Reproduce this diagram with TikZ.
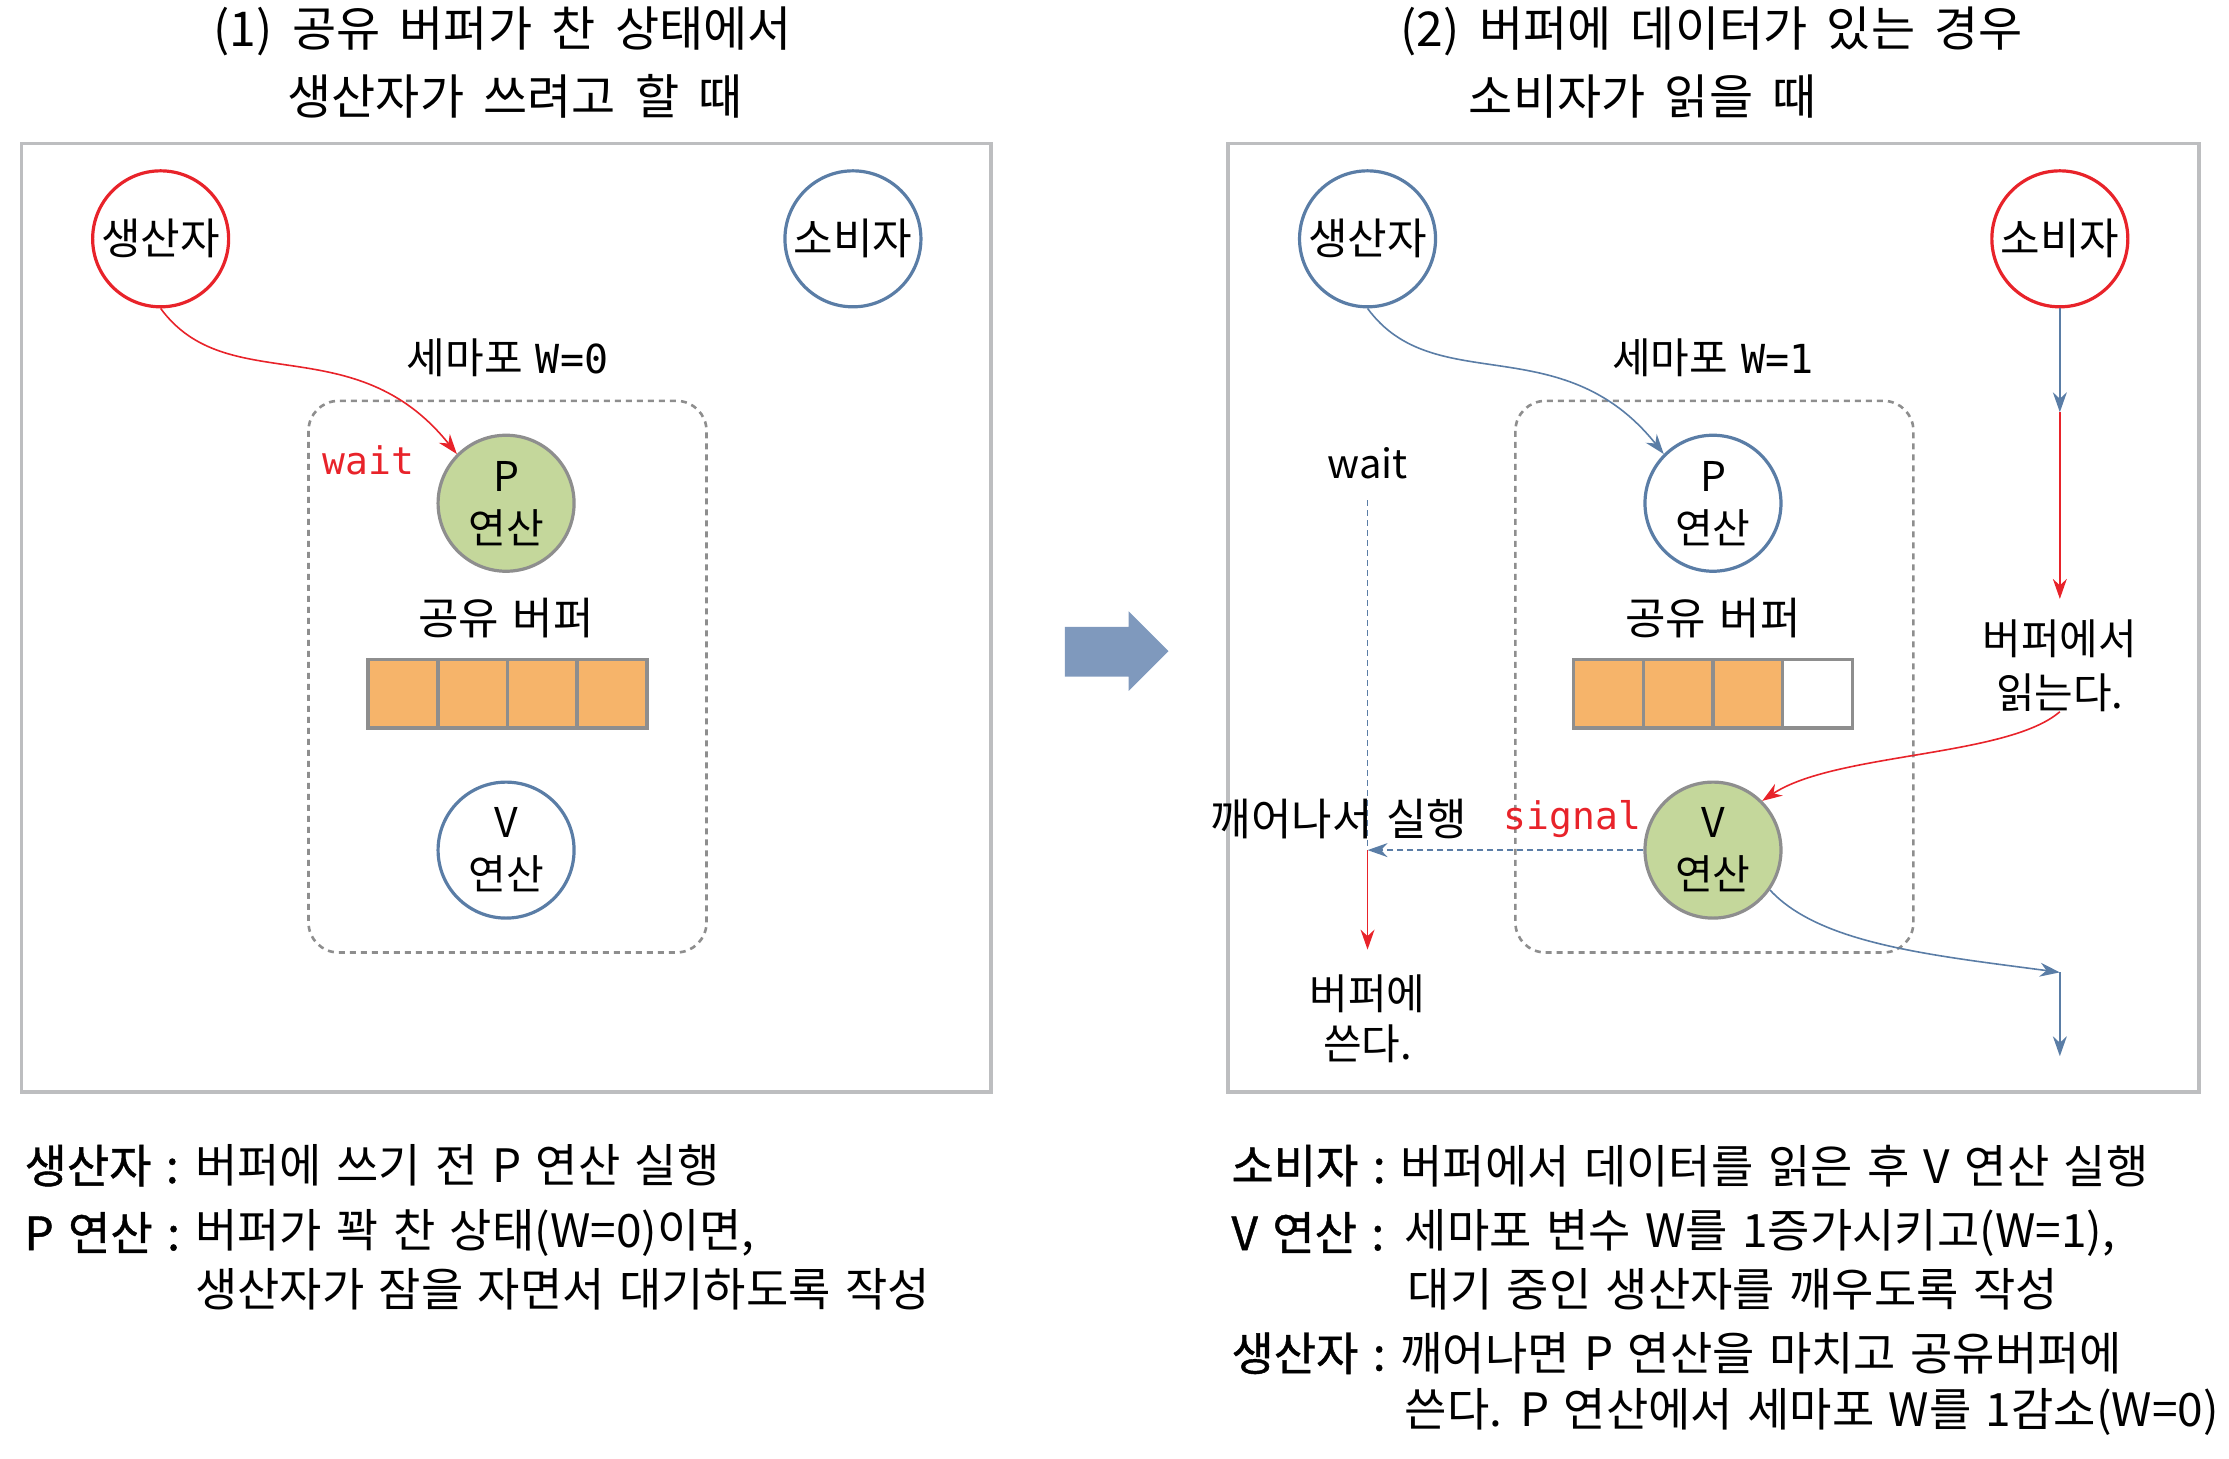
\documentclass[tikz,border=0pt]{standalone}
\usepackage{fontspec}
\setmainfont[WordSpace=1.4]{Noto Sans CJK KR}
\newfontfamily\headfont[WordSpace=1.8]{Noto Sans CJK KR}
\newfontfamily\lblfont[FakeBold=0.9,WordSpace=1.4]{Noto Sans CJK KR}
\newfontfamily\monofont{DejaVu Sans Mono}
\usetikzlibrary{positioning,arrows.meta}
\definecolor{sigred}{HTML}{E8232A}
\definecolor{semblue}{HTML}{5A7DA6}
\definecolor{opgreen}{HTML}{C4D79B}
\definecolor{ringgray}{HTML}{8E8E8E}
\definecolor{bufgold}{HTML}{F6B46A}
\definecolor{framegray}{HTML}{BDBEC0}
\definecolor{bigarrow}{HTML}{7F99BD}

\begin{document}
\begin{tikzpicture}[x=0.7108pt,y=-0.7108pt,
  agent/.style={circle,draw,line width=1.6pt,minimum size=68pt,inner sep=0pt,font=\fontsize{21.5}{24}\selectfont},
  op/.style={circle,draw,line width=1.6pt,minimum size=68pt,inner sep=0pt,align=center,font=\fontsize{20.5}{26}\selectfont},
  txt/.style={inner sep=0pt,align=center,font=\fontsize{22}{26}\selectfont},
  code/.style={inner sep=0pt,text=sigred,font=\monofont\fontsize{19}{22}\selectfont},
  desc/.style={inner sep=0pt,anchor=west,font=\fontsize{23}{26}\selectfont},
  lbl/.style={desc,font=\lblfont\fontsize{23}{26}\selectfont},
  head/.style={inner sep=0pt,anchor=west,font=\headfont\fontsize{24}{28}\selectfont},
  panel/.style={draw=framegray,line width=1.8pt},
  sema/.style={draw=ringgray,line width=1.3pt,dash pattern=on 3pt off 2.5pt,rounded corners=15pt},
  cell/.style={draw=ringgray,line width=1.8pt,fill=bufgold},
  arr/.style={-{Stealth[length=10pt,width=7pt]},line width=0.8pt}]
\useasboundingbox (0,0) rectangle (1568,1026);

% titles
\node[head] (titleA1) at (150,22) {(1) 공유 버퍼가 찬 상태에서};
\node[head] (titleA2) at (202,68) {생산자가 쓰려고 할 때};
\node[head] (titleB1) at (985,22) {(2) 버퍼에 데이터가 있는 경우};
\node[head] (titleB2) at (1033,68) {소비자가 읽을 때};

\draw[panel] (15,101) rectangle (697,768);
\draw[panel] (864,101) rectangle (1547,768);

% (1) buffer full, producer writes
\node[agent,draw=sigred] (prodA) at (113,168) {생산자};
\node[agent,draw=semblue] (consA) at (600,168) {소비자};
\node[txt,font=\fontsize{21}{26}\selectfont] (semA) at (357,252) {세마포 {\monofont\fontsize{20}{26}\selectfont W=0}};
\draw[sema] (217,282) rectangle (497,670);
\node[op,draw=ringgray,fill=opgreen] (pA) at (356,354) {P\\연산};
\node[code] (waitA) at (259,324) {wait};
\node[txt] (bufA) at (356,435) {공유 버퍼};
\foreach \i in {0,...,3}
  \draw[cell] (259+49*\i,464) rectangle ++(49,48);
\node[op,draw=semblue] (vA) at (356,598) {V\\연산};
\draw[arr,sigred] (prodA.south) .. controls +(47,64) and +(-72,-90) .. (pA.north west);

\fill[bigarrow] (749,441) -- (794,441) -- (794,430) -- (822,458)
  -- (794,486) -- (794,476) -- (749,476) -- cycle;

% (2) buffer has data, consumer reads
\node[agent,draw=semblue] (prodB) at (962,168) {생산자};
\node[agent,draw=sigred] (consB) at (1449,168) {소비자};
\node[txt,font=\fontsize{21}{26}\selectfont] (semB) at (1205,252) {세마포 {\monofont\fontsize{20}{26}\selectfont W=1}};
\draw[sema] (1066,282) rectangle (1346,670);
\node[op,draw=semblue] (pB) at (1205,354) {P\\연산};
\node[txt] (bufB) at (1205,435) {공유 버퍼};
\foreach \i in {0,1,2}
  \draw[cell] (1107+49*\i,464) rectangle ++(49,48);
\draw[cell,fill=white] (1254,464) rectangle ++(49,48);
\node[op,draw=ringgray,fill=opgreen] (vB) at (1205,598) {V\\연산};
\draw[arr,semblue] (prodB.south) .. controls +(47,64) and +(-72,-90) .. (pB.north west);

\node[txt,font=\fontsize{20}{24}\selectfont] (waitB) at (962,326) {wait};
\coordinate (sleepB) at (962,352);
\coordinate (wakeB) at (962,598);
\coordinate (doneB) at (962,668);
\draw[semblue,line width=0.8pt,dash pattern=on 3pt off 2pt] (sleepB) -- (wakeB);
\draw[arr,semblue,dash pattern=on 3pt off 2pt] (vB.west) -- (wakeB);
\draw[arr,sigred] (wakeB) -- (doneB);
\node[txt] (wakeTxt) at (942,576) {깨어나서 실행};
\node[code] (sigB) at (1106,576) {signal};
\node[txt,font=\fontsize{21}{25}\selectfont] (writeB) at (962,717) {버퍼에\\쓴다.};

\coordinate (midB) at (1449,290);
\draw[arr,semblue] (consB.south) -- (midB);
\node[txt,font=\fontsize{21}{27}\selectfont] (readB) at (1449,468) {버퍼에서\\읽는다.};
\draw[arr,sigred,shorten >=10pt] (midB) -- (readB.north);
\draw[arr,sigred] (readB.south) .. controls +(-37,32) and +(51,-34) .. (vB.north east);
\coordinate (outB) at (1449,684);
\coordinate (endB) at (1449,743);
\draw[arr,semblue] (vB.-35) .. controls +(35,38) and +(-90,-12) .. (outB);
\draw[arr,semblue] (outB) -- (endB);

% notes
\node[lbl] (noteA1) at (17,820) {생산자 :};
\node[desc] (textA1) at (137,820) {버퍼에 쓰기 전 P 연산 실행};
\node[lbl] (noteA2) at (17,867) {P 연산 :};
\node[desc] (textA2) at (137,867) {버퍼가 꽉 찬 상태(W=0)이면,};
\node[desc] (textA3) at (137,907) {생산자가 잠을 자면서 대기하도록 작성};
\node[lbl] (noteB1) at (866,820) {소비자 :};
\node[desc] (textB1) at (985,820) {버퍼에서 데이터를 읽은 후 V 연산 실행};
\node[lbl] (noteB2) at (866,867) {V 연산 :};
\node[desc] (textB2) at (988,867) {세마포 변수 W를 1증가시키고(W=1),};
\node[desc] (textB3) at (990,907) {대기 중인 생산자를 깨우도록 작성};
\node[lbl] (noteB3) at (866,952) {생산자 :};
\node[desc] (textB4) at (985,952) {깨어나면 P 연산을 마치고 공유버퍼에};
\node[desc] (textB5) at (988,993) {쓴다. P 연산에서 세마포 W를 1감소(W=0)};
\end{tikzpicture}
\end{document}
